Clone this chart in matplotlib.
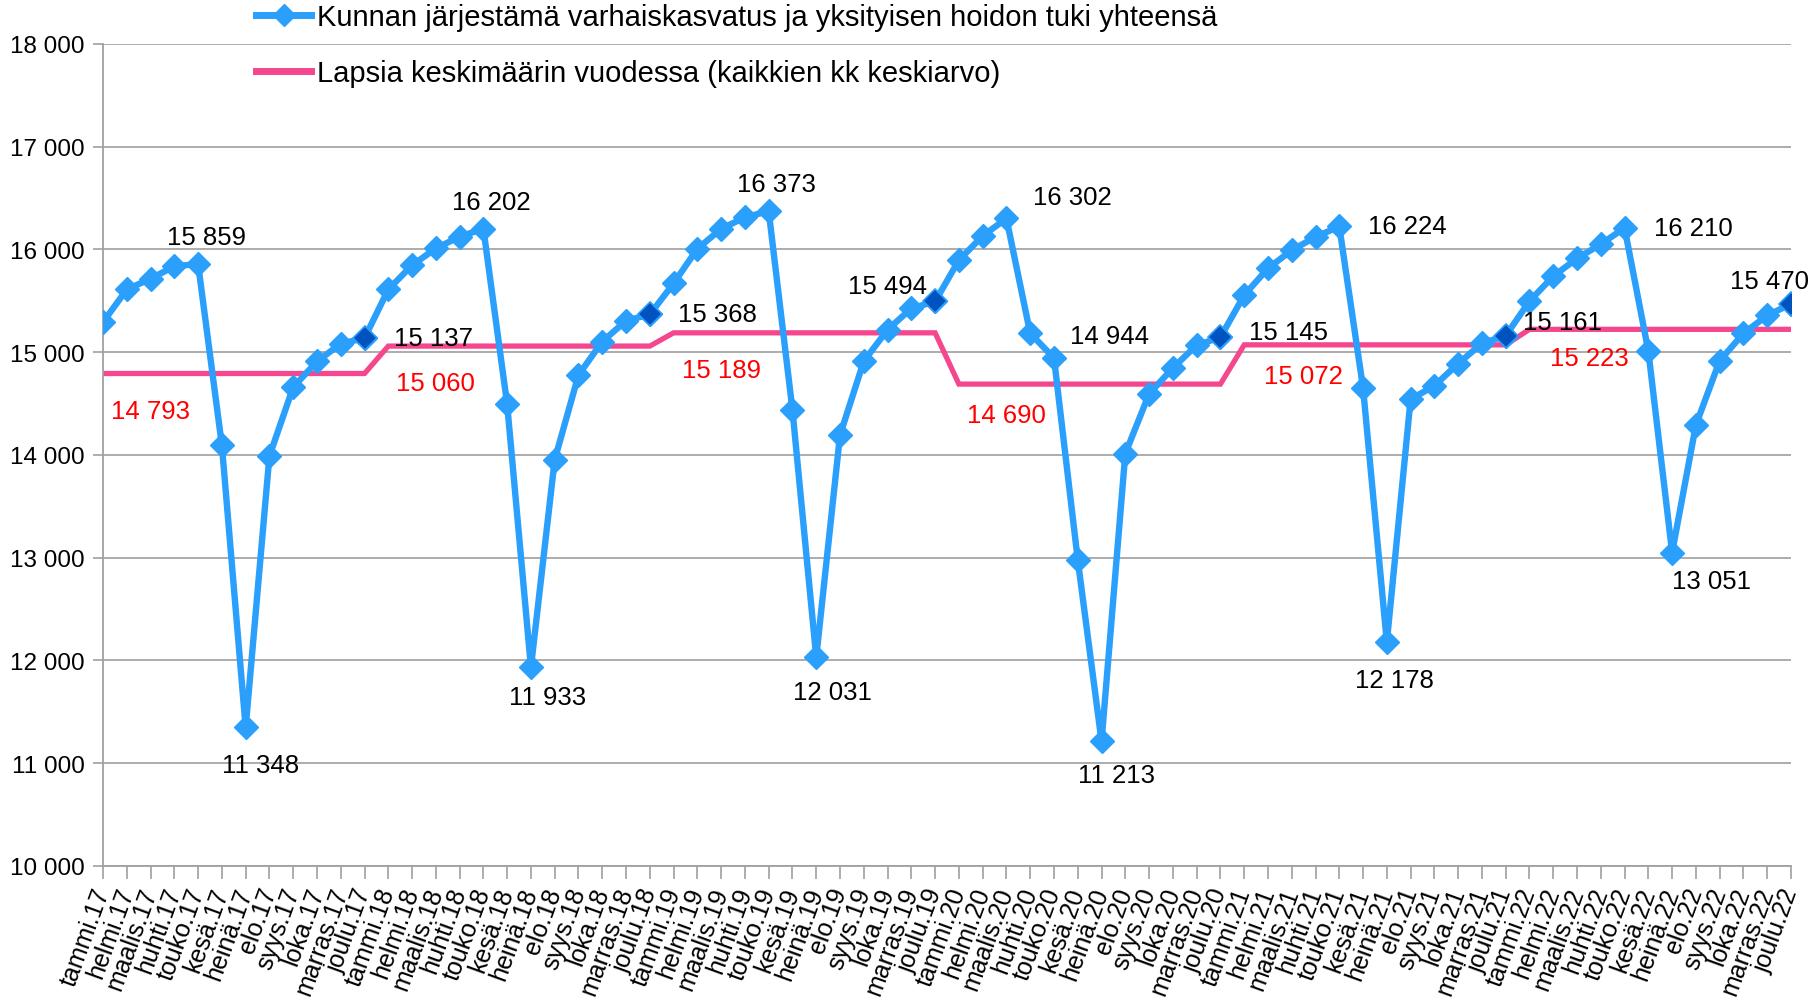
import numpy as np
import matplotlib
matplotlib.use("Agg")
import matplotlib.pyplot as plt
from matplotlib.ticker import FuncFormatter, MultipleLocator
from matplotlib.lines import Line2D

plt.rcParams['font.family'] = ['Liberation Sans', 'DejaVu Sans']

# ---------------- data ----------------
months = ['tammi', 'helmi', 'maalis', 'huhti', 'touko', 'kesä',
          'heinä', 'elo', 'syys', 'loka', 'marras', 'joulu']
years = ['17', '18', '19', '20', '21', '22']

v2017 = [15292, 15611, 15715, 15837, 15859, 14094, 11348, 13990, 14660, 14910, 15083, 15137]
v2018 = [15611, 15847, 16010, 16125, 16202, 14493, 11933, 13955, 14778, 15104, 15306, 15368]
v2019 = [15670, 16007, 16201, 16313, 16373, 14437, 12031, 14194, 14913, 15219, 15427, 15494]
v2020 = [15896, 16132, 16302, 15184, 14944, 12979, 11213, 14014, 14594, 14847, 15069, 15145]
v2021 = [15556, 15816, 15993, 16122, 16224, 14653, 12178, 14542, 14674, 14889, 15087, 15161]
v2022 = [15497, 15740, 15913, 16052, 16210, 15010, 13051, 14292, 14917, 15184, 15358, 15470]

averages = [14793, 15060, 15189, 14690, 15072, 15223]

# labelled points: (index, dx px, dy px, ha)
labelled = [(4, 8, 27, 'center'), (6, 15, -38, 'center'), (11, 29, 0, 'left'),
            (16, 8, 27, 'center'), (18, 17, -30, 'center'), (23, 28, 0, 'left'),
            (28, 8, 27, 'center'), (30, 16, -35, 'center'), (35, -8, 15, 'right'),
            (38, 27, 21, 'left'), (40, 16, 22, 'left'), (42, 15, -34, 'center'),
            (47, 29, 5, 'left'), (52, 29, 0, 'left'), (54, 8, -38, 'center'),
            (59, 17, 14, 'left'), (64, 29, 0, 'left'), (66, 39, -28, 'center'),
            (71, -22, 23, 'center')]
avg_label_pos = [(2.0, -37), (14.0, -37), (26.0, -37), (38.0, -31), (50.5, -31), (62.5, -29)]

# ---------------- build ----------------
values = np.array(v2017 + v2018 + v2019 + v2020 + v2021 + v2022)
avg_line = np.repeat(averages, 12)
labels = [f"{m}.{y}" for y in years for m in months]
x = np.arange(len(values))
dec = x[11::12]

fmt = lambda v: f"{int(round(v)):,}".replace(",", " ")

fig = plt.figure(figsize=(18.13, 10.04), dpi=100)
ax = fig.add_axes([103/1813, 1-867/1004, (1791-103)/1813, (867-45)/1004])

blue = '#2A9FFB'
dark = '#0052BE'
pink = '#F5478E'

ax.plot(x, avg_line, color=pink, lw=3.8, zorder=2, solid_joinstyle='miter')
ax.plot(x, values, color=blue, lw=4.6, marker='D', ms=12.5, mec=blue, mfc=blue, zorder=3)
ax.plot(dec, values[dec], ls='none', marker='D', ms=12.5, mfc=dark, mec=blue, mew=1.2, zorder=4)

for i, dx, dy, ha in labelled:
    ax.annotate(fmt(values[i]), (x[i], values[i]), xytext=(dx, dy), textcoords='offset pixels',
                ha=ha, va='center', fontsize=18.5, color='black', zorder=5)

for (xi, dy), a in zip(avg_label_pos, averages):
    ax.annotate(fmt(a), (xi, a), xytext=(0, dy), textcoords='offset pixels',
                ha='center', va='center', fontsize=18.5, color='#FF0000', zorder=5)

ax.set_xlim(0, len(values) - 1)
ax.set_ylim(10000, 18000)
ax.yaxis.set_major_locator(MultipleLocator(1000))
ax.yaxis.set_major_formatter(FuncFormatter(lambda v, p: fmt(v)))
ax.set_xticks(x)
ax.set_xticklabels(labels, rotation=70, ha='right', va='center', rotation_mode='anchor')
ax.tick_params(axis='x', length=9, width=1.2, color='#A0A0A0', labelsize=18, pad=7)
ax.tick_params(axis='y', length=7, width=1.2, color='#A0A0A0', labelsize=17.5, pad=6)
ax.grid(axis='y', color='#A6A6A6', lw=1.3)
ax.set_axisbelow(True)
for s in ['top', 'right']:
    ax.spines[s].set_visible(False)
for s in ['left', 'bottom']:
    ax.spines[s].set_color('#A0A0A0')
    ax.spines[s].set_linewidth(1.3)

handles = [Line2D([], [], color=blue, lw=5, marker='D', ms=11),
           Line2D([], [], color=pink, lw=5)]
fig.legend(handles, ['Kunnan järjestämä varhaiskasvatus ja yksityisen hoidon tuki yhteensä',
                     'Lapsia keskimäärin vuodessa (kaikkien kk keskiarvo)'],
           loc='upper left', bbox_to_anchor=(256/1813, 1 - 4/1004), frameon=False,
           fontsize=21, handlelength=1.9, handletextpad=0.2, labelspacing=0.95,
           numpoints=1, borderaxespad=0, borderpad=0)

fig.savefig('out.png', dpi=100)
